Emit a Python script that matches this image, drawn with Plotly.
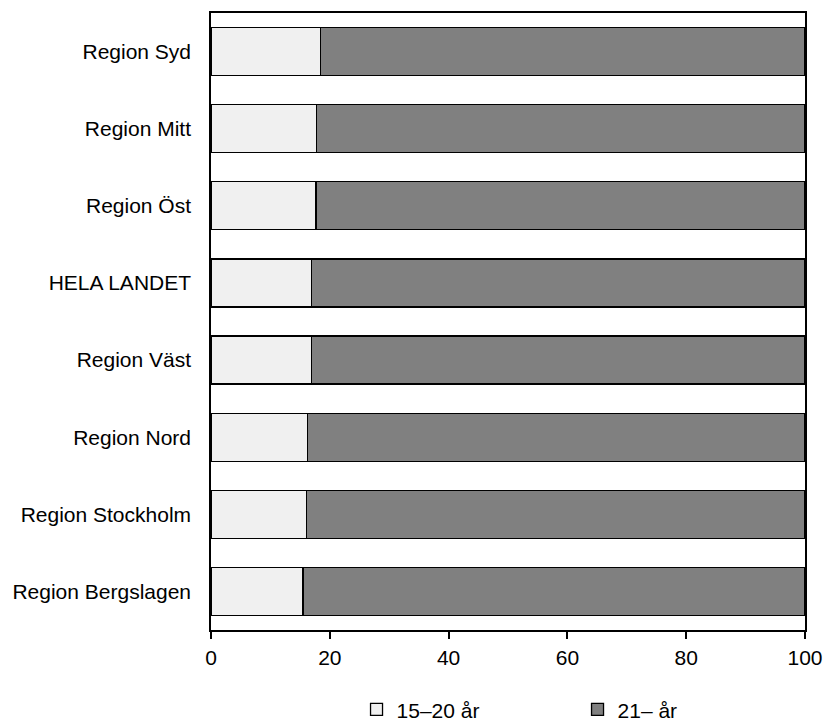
import plotly.graph_objects as go

regions = ["Region Syd", "Region Mitt", "Region Öst", "HELA LANDET",
           "Region Väst", "Region Nord", "Region Stockholm", "Region Bergslagen"]
young = [18.4, 17.8, 17.7, 16.9, 16.9, 16.2, 16.1, 15.5]
older = [round(100 - v, 1) for v in young]
series_names = ["15–20 år", "21– år"]
x_ticks = [0, 20, 40, 60, 80, 100]

fig = go.Figure()
fig.add_trace(go.Bar(y=regions, x=young, orientation="h", name=series_names[0],
                     marker=dict(color="#f0f0f0", line=dict(color="#000000", width=1.3))))
fig.add_trace(go.Bar(y=regions, x=older, orientation="h", name=series_names[1],
                     marker=dict(color="#808080", line=dict(color="#000000", width=1.3))))

fig.update_layout(
    barmode="stack",
    bargap=0.377,
    width=826, height=722,
    margin=dict(l=211, r=21, t=13, b=92, autoexpand=False),
    paper_bgcolor="white", plot_bgcolor="white",
    font=dict(family="Liberation Sans, Arial, sans-serif", size=21, color="#000000"),
    xaxis=dict(range=[0, 100], tickvals=x_ticks, ticks="outside", ticklen=7,
               tickcolor="#000", tickwidth=1.5, showline=True, linecolor="#000", linewidth=1.5,
               mirror=True, showgrid=False, zeroline=False, ticklabelstandoff=1,
               automargin=False),
    yaxis=dict(categoryorder="array", categoryarray=regions, autorange="reversed",
               showline=True, linecolor="#000", linewidth=1.5, mirror=True,
               showgrid=False, ticks="", ticklabelstandoff=14, automargin=False),
    showlegend=True,
    legend=dict(orientation="h", x=0.245, xanchor="left", y=-0.096, yanchor="top",
                entrywidth=176, entrywidthmode="pixels", itemwidth=30,
                font=dict(size=21), traceorder="normal"),
)

fig.write_html("out.html", config={"displayModeBar": False},
               post_script="document.body.style.margin='0';document.body.style.padding='0';")
